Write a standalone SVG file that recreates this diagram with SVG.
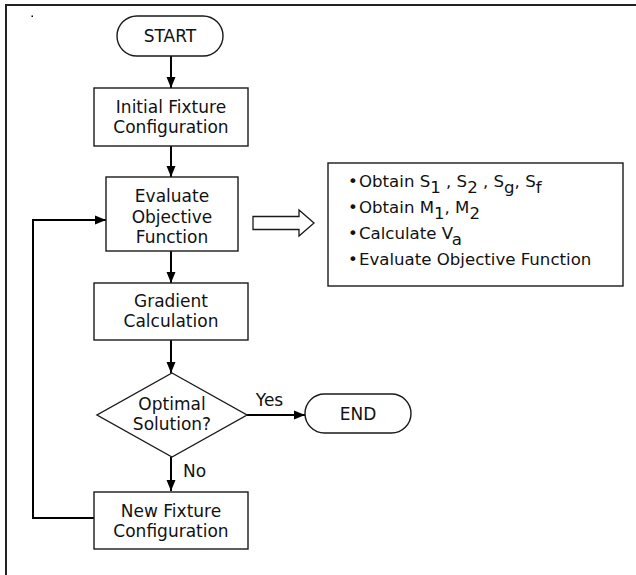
<svg xmlns="http://www.w3.org/2000/svg" width="636" height="575" viewBox="0 0 636 575">
  <defs>
    <marker id="ah" markerUnits="userSpaceOnUse" markerWidth="12" markerHeight="10" refX="11" refY="5" orient="auto">
      <path d="M0,0.5 L11,5 L0,9.5 z" fill="#000"/>
    </marker>
  </defs>
  <style>
    .box { fill: #fff; stroke: #1a1a1a; stroke-width: 1.4; }
    .t { font-family: "DejaVu Sans", Verdana, sans-serif; font-size: 17px; fill: #111; }
    .s { font-size: 16.6px; }
    .c { text-anchor: middle; }
    .ln { fill: none; stroke: #000; stroke-width: 2; }
  </style>
  <rect width="636" height="575" fill="#fff"/>
  <path d="M6,575 V5 H636" fill="none" stroke="#222" stroke-width="2"/>
  <rect x="31.5" y="15.5" width="1.5" height="1.5" fill="#000"/>

  <g id="connectors">
    <line class="ln" x1="171" y1="56" x2="171" y2="88" marker-end="url(#ah)"/>
    <line class="ln" x1="171" y1="146" x2="171" y2="177" marker-end="url(#ah)"/>
    <line class="ln" x1="171" y1="251" x2="171" y2="283" marker-end="url(#ah)"/>
    <line class="ln" x1="171" y1="340" x2="171" y2="373" marker-end="url(#ah)"/>
    <line class="ln" x1="171" y1="457" x2="171" y2="491" marker-end="url(#ah)"/>
    <line class="ln" x1="247" y1="415" x2="305" y2="415" stroke-width="3" marker-end="url(#ah)"/>
    <polyline class="ln" points="94,518 33,518 33,220 106,220" stroke-width="1.6" marker-end="url(#ah)"/>
    <polygon points="253,216.5 299,216.5 299,210 314,223 299,236 299,229.5 253,229.5" fill="#fff" stroke="#1a1a1a" stroke-width="1.3"/>
    <text class="t c" x="269.5" y="406">Yes</text>
    <text class="t" x="183" y="477">No</text>
  </g>

  <g id="start">
    <rect class="box" x="117" y="16" width="106" height="40" rx="20"/>
    <text class="t c" x="170" y="42">START</text>
  </g>
  <g id="initial">
    <rect class="box" x="94" y="88" width="154" height="58"/>
    <text class="t c" x="171" y="113">Initial Fixture</text>
    <text class="t c" x="171" y="133">Configuration</text>
  </g>
  <g id="evaluate">
    <rect class="box" x="106" y="177" width="132" height="74"/>
    <text class="t c" x="172" y="202">Evaluate</text>
    <text class="t c" x="172" y="222.5">Objective</text>
    <text class="t c" x="172" y="243">Function</text>
  </g>
  <g id="details">
    <rect class="box" x="328" y="163" width="295" height="123"/>
    <text class="t s" x="348" y="187">•</text>
    <text class="t s" x="348" y="213">•</text>
    <text class="t s" x="348" y="239">•</text>
    <text class="t s" x="348" y="265">•</text>
    <text class="t s" x="359" y="187">Obtain S<tspan dy="6">1</tspan><tspan dy="-6"> , S</tspan><tspan dy="6">2</tspan><tspan dy="-6"> , S</tspan><tspan dy="6">g</tspan><tspan dy="-6">, S</tspan><tspan dy="6">f</tspan></text>
    <text class="t s" x="359" y="213">Obtain M<tspan dy="6">1</tspan><tspan dy="-6">, M</tspan><tspan dy="6">2</tspan></text>
    <text class="t s" x="359" y="239">Calculate V<tspan dy="6">a</tspan></text>
    <text class="t s" x="359" y="265">Evaluate Objective Function</text>
  </g>
  <g id="gradient">
    <rect class="box" x="94" y="283" width="154" height="57"/>
    <text class="t c" x="171" y="307">Gradient</text>
    <text class="t c" x="171" y="327">Calculation</text>
  </g>
  <g id="decision">
    <polygon class="box" points="172,373 247,415 172,457 97,415"/>
    <text class="t c" x="172" y="410">Optimal</text>
    <text class="t c" x="172" y="430">Solution?</text>
  </g>
  <g id="end">
    <rect class="box" x="305" y="394" width="106" height="39" rx="19.5"/>
    <text class="t c" x="358" y="420">END</text>
  </g>
  <g id="newfix">
    <rect class="box" x="94" y="492" width="154" height="57"/>
    <text class="t c" x="171" y="517">New Fixture</text>
    <text class="t c" x="171" y="537">Configuration</text>
  </g>
</svg>
